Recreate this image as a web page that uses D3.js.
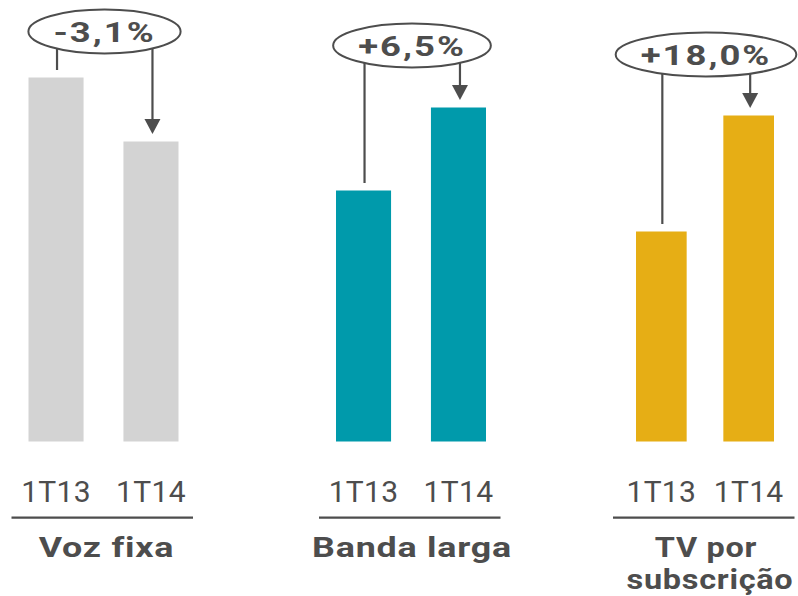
<!DOCTYPE html>
<html><head><meta charset="utf-8">
<script src="https://cdn.jsdelivr.net/npm/d3@7"></script>
<style>body{margin:0;background:#fff}svg{display:block}</style>
</head><body><svg id="c" width="798" height="596"></svg>
<script>
// ---- data ----
const groups = ["Voz fixa", "Banda larga", "TV por subscrição"];
const groupLines = [["Voz fixa"], ["Banda larga"], ["TV por", "subscrição"]];
const periods = ["1T13", "1T14"];
const valuesVoz = [364, 300];
const valuesBanda = [251, 334];
const valuesTV = [210, 326];
const changes = ["-3,1%", "+6,5%", "+18,0%"];
const colors = ["#d3d3d3", "#009aab", "#e6ae15"];

// ---- layout ----
const baseY = 441.5, topY = 41.5;
const groupCenters = [103.5, 411, 705];
const groupSpans = [150, 150, 138];
const ellipseLift = [46, 62, 61];
const labelStretch = [1.28, 1.28, 1.16];
const ink = "#4d4d4d";
const series = [valuesVoz, valuesBanda, valuesTV];

const svg = d3.select("#c");
const y = d3.scaleLinear().domain([0, 400]).range([baseY, topY]);
const gx = d3.scaleOrdinal().domain(groups).range(groupCenters);

groups.forEach((g, gi) => {
  const cx = gx(g);
  const half = groupSpans[gi] / 2;
  const x = d3.scaleBand().domain(periods).range([cx - half, cx + half]).paddingInner(0.42).paddingOuter(0);
  const vals = series[gi];
  const G = svg.append("g");

  G.selectAll("rect").data(periods).join("rect")
    .attr("x", p => x(p)).attr("width", x.bandwidth())
    .attr("y", (p, i) => y(vals[i])).attr("height", (p, i) => baseY - y(vals[i]))
    .attr("fill", colors[gi]);

  // period labels
  G.selectAll("text.per").data(periods).join("text").attr("class", "per")
    .attr("x", p => x(p) + x.bandwidth() / 2).attr("y", 501.5)
    .attr("text-anchor", "middle").attr("font-family", "Roboto").attr("font-size", 30)
    .attr("font-weight", 400).attr("fill", ink).attr("letter-spacing", 0.3).text(p => p);

  // separator
  G.append("line").attr("x1", cx - 92).attr("x2", cx + 89.5).attr("y1", 517.7).attr("y2", 517.7)
    .attr("stroke", ink).attr("stroke-width", 2.2);

  // group label
  groupLines[gi].forEach((t, li) => {
    const off = gi === 0 ? 3 : (li === 1 ? 5 : 1);
    G.append("g").attr("transform", `translate(${cx + off},${557 + li * 32}) scale(${labelStretch[gi]},1)`)
      .append("text").attr("text-anchor", "middle").attr("font-family", "Roboto")
      .attr("font-size", 28).attr("font-weight", 700).attr("fill", ink).attr("letter-spacing", 0.6).text(t);
  });

  // change annotation
  const maxTop = y(d3.max(vals));
  const ecy = maxTop - ellipseLift[gi];
  const x0 = x(periods[0]) + x.bandwidth() / 2 + 1;
  const x1 = x(periods[1]) + x.bandwidth() / 2 + 1.5;
  const gap = 7.5;
  G.append("line").attr("x1", x0).attr("x2", x0).attr("y1", ecy).attr("y2", y(vals[0]) - gap)
    .attr("stroke", ink).attr("stroke-width", 2.2);
  const tipY = y(vals[1]) - gap;
  G.append("line").attr("x1", x1).attr("x2", x1).attr("y1", ecy).attr("y2", tipY - 13)
    .attr("stroke", ink).attr("stroke-width", 2.2);
  G.append("path").attr("d", `M${x1 - 8},${tipY - 15}L${x1 + 8},${tipY - 15}L${x1},${tipY}Z`).attr("fill", ink);

  const ell = G.append("ellipse").attr("cx", cx + 1).attr("cy", ecy).attr("ry", 22)
    .attr("fill", "#fff").attr("stroke", ink).attr("stroke-width", 2);
  const tg = G.append("g").attr("transform", `translate(${cx + 1},${ecy + 10}) scale(1.35,1)`);
  const tt = tg.append("text").attr("text-anchor", "middle").attr("font-family", "Roboto")
    .attr("font-size", 27).attr("font-weight", 700).attr("fill", ink).attr("letter-spacing", 1.5).text(changes[gi]);
  const bw = tt.node().getBBox().width * 1.35;
  ell.attr("rx", bw / 2 + 25);
});
</script></body></html>
